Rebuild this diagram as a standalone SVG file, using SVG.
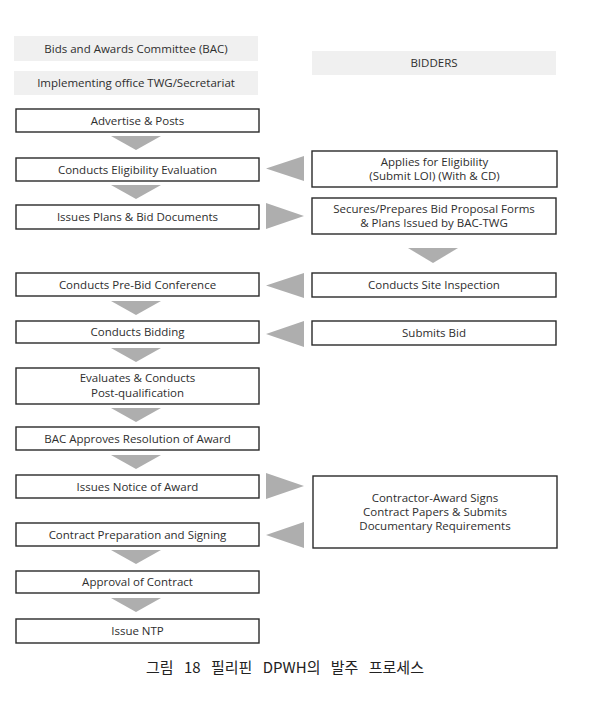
<svg xmlns="http://www.w3.org/2000/svg" width="605" height="703" viewBox="0 0 605 703">
<style>
  .hdr { fill: #f0f0f0; stroke: none; }
  .box { fill: #ffffff; stroke: #2a2a2a; stroke-width: 1.4; }
  .arr { fill: #aeaeae; stroke: none; }
  .t { font-family: "Open Sans", "Noto Sans", "Liberation Sans", sans-serif; font-size: 11.5px; fill: #2e2e2e; text-anchor: middle; }
  .cap { font-family: "Noto Sans CJK KR", "Noto Sans", sans-serif; font-size: 15px; fill: #222222; text-anchor: middle; word-spacing: 7px; }
</style>
<rect width="605" height="703" fill="#ffffff"/>

<g id="hdr-bac"><rect class="hdr" x="14" y="36" width="244" height="25"/><text class="t" x="136" y="52.5">Bids and Awards Committee (BAC)</text></g>
<g id="hdr-twg"><rect class="hdr" x="14" y="71" width="244" height="24"/><text class="t" x="136" y="87">Implementing office TWG/Secretariat</text></g>
<g id="hdr-bidders"><rect class="hdr" x="312" y="51" width="244" height="24"/><text class="t" x="434" y="67">BIDDERS</text></g>

<g id="n-advertise"><rect class="box" x="16" y="109" width="243" height="23"/><text class="t" x="137.5" y="124.5">Advertise &amp; Posts</text></g>
<g id="n-eligibility"><rect class="box" x="16" y="158" width="243" height="23"/><text class="t" x="137.5" y="173.5">Conducts Eligibility Evaluation</text></g>
<g id="n-plans"><rect class="box" x="16" y="205" width="243" height="24"/><text class="t" x="137.5" y="221">Issues Plans &amp; Bid Documents</text></g>
<g id="n-prebid"><rect class="box" x="16" y="273" width="243" height="23"/><text class="t" x="137.5" y="288.5">Conducts Pre-Bid Conference</text></g>
<g id="n-bidding"><rect class="box" x="16" y="321" width="243" height="22"/><text class="t" x="137.5" y="336">Conducts Bidding</text></g>
<g id="n-evaluates"><rect class="box" x="16" y="368" width="243" height="36"/><text class="t" x="137.5" y="382">Evaluates &amp; Conducts</text><text class="t" x="137.5" y="396.5">Post-qualification</text></g>
<g id="n-resolution"><rect class="box" x="16" y="427" width="243" height="23"/><text class="t" x="137.5" y="442.5">BAC Approves Resolution of Award</text></g>
<g id="n-notice"><rect class="box" x="16" y="475" width="243" height="23"/><text class="t" x="137.5" y="490.5">Issues Notice of Award</text></g>
<g id="n-contract"><rect class="box" x="16" y="523" width="243" height="23"/><text class="t" x="137.5" y="538.5">Contract Preparation and Signing</text></g>
<g id="n-approval"><rect class="box" x="16" y="571" width="243" height="22"/><text class="t" x="137.5" y="586">Approval of Contract</text></g>
<g id="n-ntp"><rect class="box" x="16" y="619" width="243" height="24"/><text class="t" x="137.5" y="635">Issue NTP</text></g>

<g id="n-applies"><rect class="box" x="312" y="151" width="245" height="36"/><text class="t" x="434.5" y="165.5">Applies for Eligibility</text><text class="t" x="434.5" y="179.5">(Submit LOI) (With &amp; CD)</text></g>
<g id="n-secures"><rect class="box" x="312" y="198" width="244" height="36"/><text class="t" x="434" y="212.5">Secures/Prepares Bid Proposal Forms</text><text class="t" x="434" y="226.5">&amp; Plans Issued by BAC-TWG</text></g>
<g id="n-site"><rect class="box" x="312" y="273" width="244" height="24"/><text class="t" x="434" y="289">Conducts Site Inspection</text></g>
<g id="n-submits"><rect class="box" x="312" y="321" width="244" height="24"/><text class="t" x="434" y="337">Submits Bid</text></g>
<g id="n-contractor"><rect class="box" x="313" y="476" width="244" height="72"/><text class="t" x="435" y="502">Contractor-Award Signs</text><text class="t" x="435" y="516">Contract Papers &amp; Submits</text><text class="t" x="435" y="530">Documentary Requirements</text></g>

<g id="connectors">
  <polygon class="arr" points="111,136 161,136 136,150"/>
  <polygon class="arr" points="111,185 161,185 136,199"/>
  <polygon class="arr" points="111,301 161,301 136,315"/>
  <polygon class="arr" points="111,348 161,348 136,362"/>
  <polygon class="arr" points="111,408 161,408 136,422"/>
  <polygon class="arr" points="111,455 161,455 136,469"/>
  <polygon class="arr" points="111,550 161,550 136,564"/>
  <polygon class="arr" points="111,598 161,598 136,612"/>
  <polygon class="arr" points="408,248 458,248 433,263"/>
  <polygon class="arr" points="304,156 304,181 266,168.5"/>
  <polygon class="arr" points="266,203 266,229 304,216"/>
  <polygon class="arr" points="304,273 304,298 266,285.5"/>
  <polygon class="arr" points="304,321 304,347 266,334"/>
  <polygon class="arr" points="266,473 266,499 304,486"/>
  <polygon class="arr" points="304,522 304,548 266,535"/>
</g>

<text class="cap" x="285" y="673">그림 18 필리핀 DPWH의 발주 프로세스</text>
</svg>
